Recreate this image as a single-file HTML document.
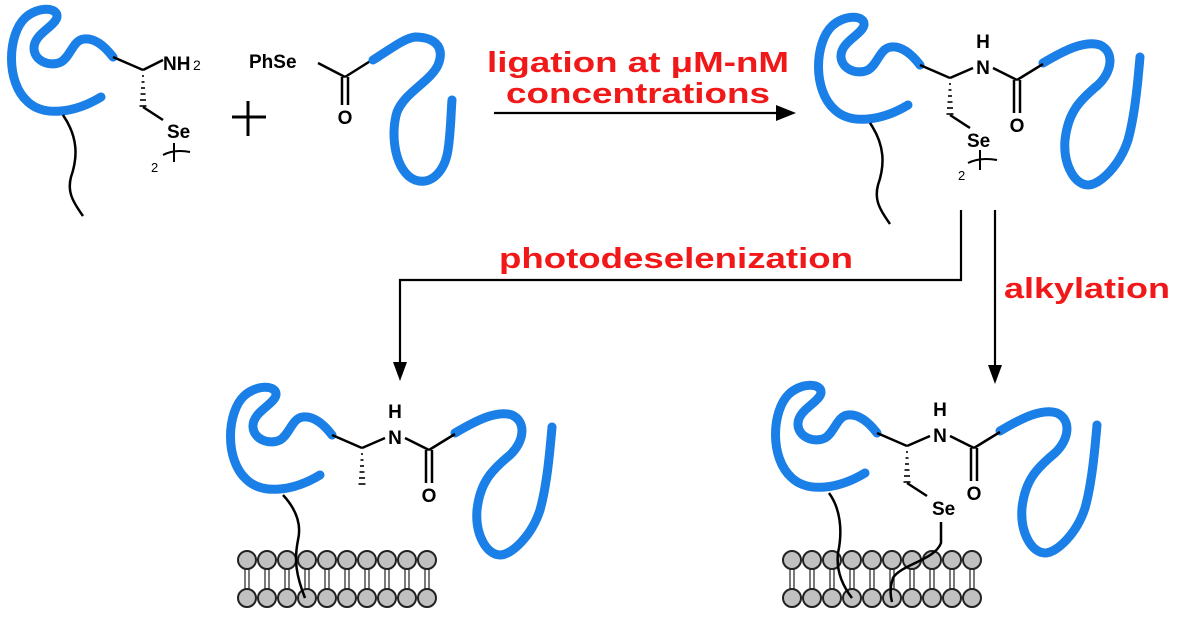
<!DOCTYPE html>
<html><head><meta charset="utf-8"><style>
html,body{margin:0;padding:0;background:#fff;}
svg{display:block;}
text{font-family:"Liberation Sans",sans-serif;}
</style></head><body>
<svg width="1177" height="619" viewBox="0 0 1177 619" xmlns="http://www.w3.org/2000/svg">
<defs>
<g id="lcurl">
<path d="M920,65 C910,52 900,46 891,47 C880,48 878,64 868,70 C858,75 842,70 841,57 C840,42 862,35 864,25 C865,15 845,14 832,26 C815,42 812,90 835,110 C850,124 880,122 908,105" fill="none" stroke="#1a7fe6" stroke-width="9" stroke-linecap="round"/>
</g>
<g id="rcurl">
<path d="M1043,63 C1065,50 1085,40 1100,45 C1115,52 1112,72 1098,85 C1080,100 1068,112 1065,140 C1063,165 1075,185 1088,185 C1100,185 1120,165 1128,140 C1135,115 1138,80 1140,57" fill="none" stroke="#1a7fe6" stroke-width="9" stroke-linecap="round"/>
</g>
<g id="amide" stroke="#000" stroke-width="2.5" fill="none">
<line x1="920" y1="65" x2="950" y2="78"/>
<line x1="950" y1="78" x2="973" y2="68"/>
<line x1="993" y1="68" x2="1017" y2="80"/>
<line x1="1017" y1="80" x2="1043" y2="64"/>
<line x1="1014" y1="80" x2="1014" y2="113"/>
<line x1="1020" y1="80" x2="1020" y2="113"/>
</g>
<g id="hash" stroke="#000" stroke-width="1.6">
<line x1="949" y1="84" x2="951" y2="84"/><line x1="948.5" y1="90" x2="951.5" y2="90"/><line x1="948" y1="96" x2="952" y2="96"/><line x1="947.5" y1="102" x2="952.5" y2="102"/><line x1="947" y1="108" x2="953" y2="108"/><line x1="946.5" y1="114" x2="953.5" y2="114"/>
</g>
<g id="amidetext" font-size="19" font-weight="bold" text-anchor="middle">
<text x="983" y="48">H</text><text x="983" y="74">N</text><text x="1017" y="132">O</text>
</g>
</defs>

<!-- ===== Reactant 1 ===== -->
<g transform="translate(-807,-8)">
<use href="#lcurl"/>
<path d="M870,123 C885,145 885,165 878,185 C874,200 880,210 890,224" fill="none" stroke="#000" stroke-width="2.5"/>
<g stroke="#000" stroke-width="2.5" fill="none"><line x1="920" y1="65" x2="950" y2="78"/><line x1="950" y1="78" x2="970" y2="68"/><line x1="950" y1="115" x2="970" y2="128"/></g>
<use href="#hash"/>
</g>
<text x="163" y="70" font-size="19" font-weight="bold">NH</text><text x="193" y="70" font-size="14">2</text>
<text x="167" y="138" font-size="19" font-weight="bold">Se</text>
<g stroke="#000" stroke-width="2" fill="none"><line x1="174" y1="143" x2="174" y2="162"/><path d="M163,155 Q174,149 190,152"/></g>
<text x="151" y="172" font-size="13">2</text>
<!-- plus -->
<g stroke="#000" stroke-width="3"><line x1="232" y1="117" x2="266" y2="117"/><line x1="248" y1="101" x2="248" y2="136"/></g>
<!-- reactant 2 -->
<text x="249" y="68" font-size="19" font-weight="bold">PhSe</text>
<g stroke="#000" stroke-width="2.5" fill="none"><line x1="318" y1="63" x2="345" y2="77"/><line x1="345" y1="77" x2="372" y2="60"/><line x1="342" y1="77" x2="342" y2="105"/><line x1="348" y1="77" x2="348" y2="105"/></g>
<text x="345" y="124" font-size="19" font-weight="bold" text-anchor="middle">O</text>
<path d="M373,60 C392,48 405,38 415,37 C432,37 446,45 438,65 C430,82 405,92 397,112 C390,135 395,172 415,180 C432,186 445,170 448,150 C451,130 451,110 452,100" fill="none" stroke="#1a7fe6" stroke-width="9" stroke-linecap="round"/>

<!-- arrow 1 -->
<line x1="494" y1="113" x2="780" y2="113" stroke="#000" stroke-width="2.2"/>
<polygon points="796,113 776,105 776,121" fill="#000"/>
<g fill="#f01818" font-size="29" font-weight="bold">
<text x="487" y="72" textLength="302" lengthAdjust="spacingAndGlyphs">ligation at μM-nM</text>
<text x="506" y="103" textLength="264" lengthAdjust="spacingAndGlyphs">concentrations</text>
</g>

<!-- ===== Product top-right ===== -->
<use href="#lcurl"/><use href="#rcurl"/><use href="#amide"/><use href="#hash"/><use href="#amidetext"/>
<path d="M870,123 C885,145 885,165 878,185 C874,200 880,210 890,224" fill="none" stroke="#000" stroke-width="2.5"/>
<line x1="950" y1="115" x2="970" y2="128" stroke="#000" stroke-width="2.5"/>
<text x="967" y="147" font-size="19" font-weight="bold">Se</text>
<g stroke="#000" stroke-width="2" fill="none"><line x1="980" y1="150" x2="980" y2="170"/><path d="M968,163 Q980,157 997,160"/></g>
<text x="958" y="180" font-size="13">2</text>

<!-- connectors -->
<g stroke="#000" stroke-width="2.2" fill="none">
<polyline points="961,210 961,280 400,280 400,365"/>
<line x1="995" y1="210" x2="995" y2="368"/>
</g>
<polygon points="400,381 393,362 407,362" fill="#000"/>
<polygon points="995,384 988,365 1002,365" fill="#000"/>
<g fill="#f01818" font-size="29" font-weight="bold">
<text x="499" y="268" textLength="354" lengthAdjust="spacingAndGlyphs">photodeselenization</text>
<text x="1004" y="298" textLength="166" lengthAdjust="spacingAndGlyphs">alkylation</text>
</g>

<!-- ===== Bottom-left ===== -->
<g transform="translate(-588,370)">
<use href="#lcurl"/><use href="#rcurl"/><use href="#amide"/><use href="#hash"/><use href="#amidetext"/>
</g>

<!-- ===== Bottom-right ===== -->
<g transform="translate(-43,368)">
<use href="#lcurl"/><use href="#rcurl"/><use href="#amide"/><use href="#hash"/><use href="#amidetext"/>
<line x1="950" y1="115" x2="970" y2="128" stroke="#000" stroke-width="2.5"/>
</g>
<text x="932" y="515" font-size="19" font-weight="bold">Se</text>

<!-- membranes -->
<g stroke="#333" stroke-width="1.3">
<g id="bil">
<line x1="245" y1="568" x2="245" y2="590"/><line x1="249" y1="568" x2="249" y2="590"/>
<line x1="265" y1="568" x2="265" y2="590"/><line x1="269" y1="568" x2="269" y2="590"/>
<line x1="285" y1="568" x2="285" y2="590"/><line x1="289" y1="568" x2="289" y2="590"/>
<line x1="305" y1="568" x2="305" y2="590"/><line x1="309" y1="568" x2="309" y2="590"/>
<line x1="325" y1="568" x2="325" y2="590"/><line x1="329" y1="568" x2="329" y2="590"/>
<line x1="345" y1="568" x2="345" y2="590"/><line x1="349" y1="568" x2="349" y2="590"/>
<line x1="365" y1="568" x2="365" y2="590"/><line x1="369" y1="568" x2="369" y2="590"/>
<line x1="385" y1="568" x2="385" y2="590"/><line x1="389" y1="568" x2="389" y2="590"/>
<line x1="405" y1="568" x2="405" y2="590"/><line x1="409" y1="568" x2="409" y2="590"/>
<line x1="425" y1="568" x2="425" y2="590"/><line x1="429" y1="568" x2="429" y2="590"/>
</g>
<use href="#bil" transform="translate(545,0)"/>
</g>
<g fill="#c0c0c0" stroke="#222" stroke-width="2">
<g id="row">
<circle cx="247" cy="560" r="9"/><circle cx="267" cy="560" r="9"/><circle cx="287" cy="560" r="9"/><circle cx="307" cy="560" r="9"/><circle cx="327" cy="560" r="9"/><circle cx="347" cy="560" r="9"/><circle cx="367" cy="560" r="9"/><circle cx="387" cy="560" r="9"/><circle cx="407" cy="560" r="9"/><circle cx="427" cy="560" r="9"/>
</g>
<use href="#row" transform="translate(0,38)"/>
<use href="#row" transform="translate(545,0)"/>
<use href="#row" transform="translate(545,38)"/>
</g>
<!-- tails over membranes -->
<path d="M283,495 C295,508 302,523 298,540 C294,560 296,575 305,598" fill="none" stroke="#000" stroke-width="2.5"/>
<path d="M829,493 C840,508 843,530 838,553 C836,570 842,585 852,598" fill="none" stroke="#000" stroke-width="2.5"/>
<path d="M941,522 L941,543 C935,560 900,565 893,578 C889,590 891,598 892,602" fill="none" stroke="#000" stroke-width="2.5"/>
</svg>
</body></html>
